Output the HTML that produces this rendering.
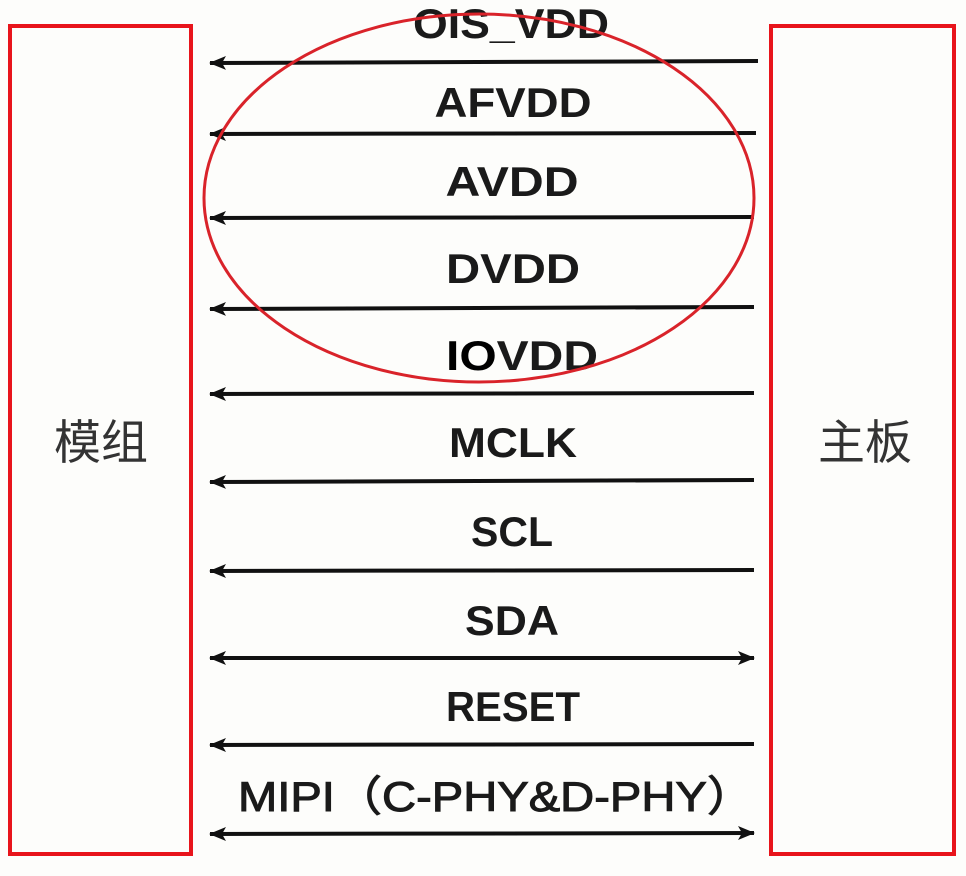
<!DOCTYPE html>
<html><head><meta charset="utf-8"><style>
html,body{margin:0;padding:0;background:#fdfdfb;}
</style></head><body>
<svg width="966" height="871" viewBox="0 0 966 871" xmlns="http://www.w3.org/2000/svg">
<defs>
<marker id="a" markerWidth="18" markerHeight="16" refX="16" refY="8" orient="auto-start-reverse" markerUnits="userSpaceOnUse">
<path d="M0,1 L17,8 L0,15 L4,8 Z" fill="#111"/></marker>
</defs>
<rect x="10" y="26" width="181" height="828" fill="none" stroke="#e8141b" stroke-width="4"/>
<rect x="771" y="26" width="183" height="828" fill="none" stroke="#e8141b" stroke-width="4"/>
<g font-family="'Liberation Sans','Noto Sans CJK SC',sans-serif" font-size="47" fill="#333" text-anchor="middle">
<text x="101" y="459">模组</text>
<text x="865" y="459">主板</text>
</g>
<g stroke="#111" stroke-width="4" fill="none">
<line x1="758" y1="61" x2="210" y2="63" marker-end="url(#a)"/>
<line x1="756" y1="133" x2="210" y2="134" marker-end="url(#a)"/>
<line x1="754" y1="217" x2="210" y2="218" marker-end="url(#a)"/>
<line x1="754" y1="307" x2="210" y2="309" marker-end="url(#a)"/>
<line x1="754" y1="393" x2="210" y2="394" marker-end="url(#a)"/>
<line x1="754" y1="480" x2="210" y2="482" marker-end="url(#a)"/>
<line x1="754" y1="570" x2="210" y2="571" marker-end="url(#a)"/>
<line x1="210" y1="658" x2="754" y2="658" marker-start="url(#a)" marker-end="url(#a)"/>
<line x1="754" y1="744" x2="210" y2="745" marker-end="url(#a)"/>
<line x1="210" y1="834" x2="754" y2="833" marker-start="url(#a)" marker-end="url(#a)"/>
</g>
<g font-family="'Liberation Sans','Noto Sans CJK SC',sans-serif" font-weight="bold" font-size="42" fill="#1a1a1a" text-anchor="middle">
<text x="511" y="38" textLength="196" lengthAdjust="spacingAndGlyphs">OIS_VDD</text>
<text x="513" y="117" textLength="157" lengthAdjust="spacingAndGlyphs">AFVDD</text>
<text x="512" y="196" textLength="133" lengthAdjust="spacingAndGlyphs">AVDD</text>
<text x="513" y="283" textLength="134" lengthAdjust="spacingAndGlyphs">DVDD</text>
<text x="522" y="370" textLength="152" lengthAdjust="spacingAndGlyphs"><tspan fill="#000">IO</tspan>VDD</text>
<text x="513" y="457" textLength="128" lengthAdjust="spacingAndGlyphs">MCLK</text>
<text x="512" y="546" textLength="82" lengthAdjust="spacingAndGlyphs">SCL</text>
<text x="512" y="635" textLength="94" lengthAdjust="spacingAndGlyphs">SDA</text>
<text x="513" y="721" textLength="134" lengthAdjust="spacingAndGlyphs">RESET</text>
<text x="496" y="811" textLength="516" lengthAdjust="spacingAndGlyphs" stroke="#1a1a1a" stroke-width="1" font-weight="normal">MIPI（C-PHY&amp;D-PHY）</text>
</g>
<ellipse cx="479" cy="198" rx="275" ry="184" fill="none" stroke="#d9232a" stroke-width="3"/>
</svg>
</body></html>
